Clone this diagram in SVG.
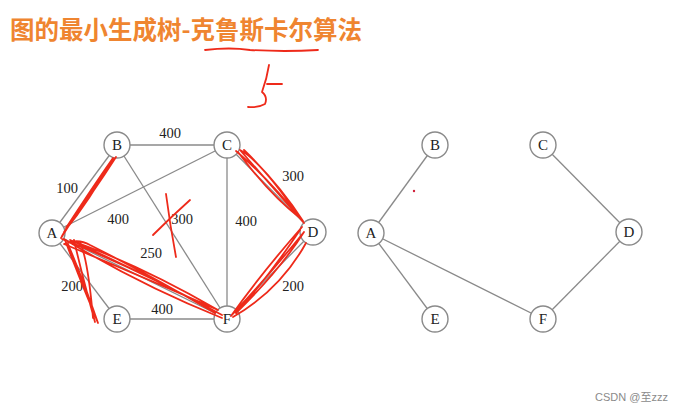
<svg xmlns="http://www.w3.org/2000/svg" width="683" height="411" viewBox="0 0 683 411">
<style>
.e{stroke:#8a8a8a;stroke-width:1.3;fill:none}
.n circle{fill:#fff;stroke:#8a8a8a;stroke-width:1.4}
.n text{font-family:"Liberation Serif",serif;font-size:15px;fill:#222;text-anchor:middle}
.w{font-family:"Liberation Serif",serif;font-size:14.5px;fill:#222;text-anchor:middle}
.r{stroke:#ee2a1a;stroke-width:1.8;fill:none;stroke-linecap:round;stroke-linejoin:round}
</style>
<rect width="683" height="411" fill="#fff"/>
<text x="10" y="39" font-family="'Noto Sans CJK SC',sans-serif" font-size="24.5" font-weight="bold" fill="#ef8530" textLength="352" lengthAdjust="spacingAndGlyphs">图的最小生成树-克鲁斯卡尔算法</text>
<g id="connectors">
<line class="e" x1="52" y1="233" x2="117" y2="145"/>
<line class="e" x1="117" y1="145" x2="227" y2="145"/>
<line class="e" x1="52" y1="233" x2="227" y2="145"/>
<line class="e" x1="117" y1="145" x2="227" y2="319"/>
<line class="e" x1="227" y1="145" x2="227" y2="319"/>
<line class="e" x1="227" y1="145" x2="313" y2="232"/>
<line class="e" x1="52" y1="233" x2="227" y2="319"/>
<line class="e" x1="52" y1="233" x2="117" y2="319"/>
<line class="e" x1="117" y1="319" x2="227" y2="319"/>
<line class="e" x1="313" y1="232" x2="227" y2="319"/>
<line class="e" x1="371" y1="233" x2="435" y2="145"/>
<line class="e" x1="543" y1="145" x2="629" y2="232"/>
<line class="e" x1="371" y1="233" x2="435" y2="319"/>
<line class="e" x1="371" y1="233" x2="543" y2="319"/>
<line class="e" x1="629" y1="232" x2="543" y2="319"/>
</g>
<g id="weights">
<text class="w" x="170" y="138">400</text>
<text class="w" x="67" y="193">100</text>
<text class="w" x="118" y="224">400</text>
<text class="w" x="182" y="224">300</text>
<text class="w" x="151" y="258">250</text>
<text class="w" x="246" y="226">400</text>
<text class="w" x="293" y="181">300</text>
<text class="w" x="293" y="291">200</text>
<text class="w" x="72" y="291">200</text>
<text class="w" x="162" y="314">400</text>
</g>
<g id="A" class="n"><circle cx="52" cy="233" r="13"/><text x="52" y="238">A</text></g>
<g id="B" class="n"><circle cx="117" cy="145" r="13"/><text x="117" y="150">B</text></g>
<g id="C" class="n"><circle cx="227" cy="145" r="13"/><text x="227" y="150">C</text></g>
<g id="D" class="n"><circle cx="313" cy="232" r="13"/><text x="313" y="237">D</text></g>
<g id="E" class="n"><circle cx="117" cy="319" r="13"/><text x="117" y="324">E</text></g>
<g id="F" class="n"><circle cx="227" cy="319" r="13"/><text x="227" y="324">F</text></g>
<g id="A2" class="n"><circle cx="371" cy="233" r="13"/><text x="371" y="238">A</text></g>
<g id="B2" class="n"><circle cx="435" cy="145" r="13"/><text x="435" y="150">B</text></g>
<g id="C2" class="n"><circle cx="543" cy="145" r="13"/><text x="543" y="150">C</text></g>
<g id="D2" class="n"><circle cx="629" cy="232" r="13"/><text x="629" y="237">D</text></g>
<g id="E2" class="n"><circle cx="435" cy="319" r="13"/><text x="435" y="324">E</text></g>
<g id="F2" class="n"><circle cx="543" cy="319" r="13"/><text x="543" y="324">F</text></g>
<g id="annotations">
<path class="r" d="M205 50 Q230 47 250 50 Q285 52 318 50"/>
<path class="r" d="M269 65 Q267 78 262 92 Q268 97 265 104 Q258 108 248 107"/>
<path class="r" d="M267 84 L282 84"/>
<path class="r" d="M166 194 Q170 225 176 257"/>
<path class="r" d="M190 200 Q170 218 153 235"/>
<path class="r" d="M62 236 Q85 196 116 157 Q95 190 64 232 Q90 200 113 158 Q92 188 66 228 M61 238 Q88 195 112 160"/>
<path class="r" d="M62 239 Q140 270 222 315 Q150 276 70 240 Q140 265 218 310 Q150 280 64 244 Q78 238 90 245 Q150 275 215 313 M64 239 Q140 285 222 318"/>
<path class="r" d="M65 240 Q80 280 98 323 Q85 285 68 244 M74 240 Q82 275 95 322 M80 242 Q88 260 93 318"/>
<path class="r" d="M236 151 Q270 180 304 223 Q275 190 240 150 Q260 160 300 218 Q270 195 238 152 M244 150 Q280 185 303 221"/>
<path class="r" d="M302 227 Q260 275 231 316 Q265 280 304 232 Q280 270 236 313 Q270 275 300 230 M306 243 Q280 290 233 317"/>
<circle cx="414" cy="191" r="1.2" fill="#d0203a"/>
</g>
<text x="668" y="401" font-family="'Liberation Sans','Noto Sans CJK SC',sans-serif" font-size="11" fill="#8a8a8a" text-anchor="end">CSDN @至zzz</text>
</svg>
